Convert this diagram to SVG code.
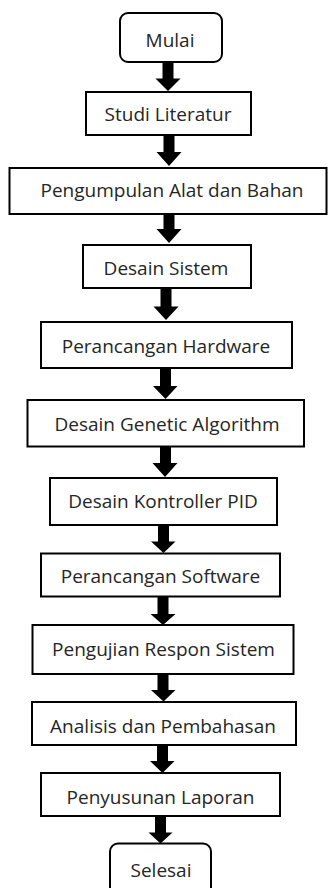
<svg xmlns="http://www.w3.org/2000/svg" width="329" height="888" viewBox="0 0 329 888">
<style>
.box{fill:#fff;stroke:#000;stroke-width:2}
.lbl{font-family:"Open Sans","Noto Sans",sans-serif;font-size:19px;fill:#262626;text-anchor:middle}
.arr{fill:#000;stroke:none}
</style>
<rect width="329" height="888" fill="#fff"/>
<g id="connectors">
<path class="arr" d="M162.5,62 H173.5 V78.5 H180.5 L168,91 L155.5,78.5 H162.5 Z"/>
<path class="arr" d="M163.5,135 H174.5 V152 H181.5 L169,166 L156.5,152 H163.5 Z"/>
<path class="arr" d="M163.5,214 H174.5 V229 H181.5 L169,243 L156.5,229 H163.5 Z"/>
<path class="arr" d="M160.5,288 H171.5 V306.5 H178.5 L166,320 L153.5,306.5 H160.5 Z"/>
<path class="arr" d="M160,368 H171 V386 H177.5 L165.5,399 L153,386 H160 Z"/>
<path class="arr" d="M160,446.5 H171 V463 H177.5 L165,477 L152.5,463 H160 Z"/>
<path class="arr" d="M158,525 H169 V541.5 H175.5 L163.5,553 L151,541.5 H158 Z"/>
<path class="arr" d="M157.5,596.5 H168.5 V614 H175.5 L163,625 L150.5,614 H157.5 Z"/>
<path class="arr" d="M157.5,674 H168.5 V690 H175.5 L163.5,701.5 L151,690 H157.5 Z"/>
<path class="arr" d="M157,745 H168 V761 H174.5 L162.5,773 L150,761 H157 Z"/>
<path class="arr" d="M155,816 H166 V832.5 H172.5 L160.5,843.5 L148.5,832.5 H155 Z"/>
</g>
<g id="n1"><rect class="box" x="120" y="13" width="102" height="49" rx="8"/><text class="lbl" x="170" y="46.5">Mulai</text></g>
<g id="n2"><rect class="box" x="86" y="92" width="165" height="43"/><text class="lbl" x="168" y="121">Studi Literatur</text></g>
<g id="n3"><rect class="box" x="9.5" y="168" width="317" height="46"/><text class="lbl" x="172" y="197">Pengumpulan Alat dan Bahan</text></g>
<g id="n4"><rect class="box" x="83" y="245" width="168" height="43"/><text class="lbl" x="166" y="275">Desain Sistem</text></g>
<g id="n5"><rect class="box" x="41" y="322" width="251" height="46"/><text class="lbl" x="166" y="353">Perancangan Hardware</text></g>
<g id="n6"><rect class="box" x="27.5" y="400" width="276.5" height="46.5"/><text class="lbl" x="167" y="430.5">Desain Genetic Algorithm</text></g>
<g id="n7"><rect class="box" x="50" y="478" width="227" height="47"/><text class="lbl" x="163" y="507.5">Desain Kontroller PID</text></g>
<g id="n8"><rect class="box" x="41" y="553.5" width="239" height="43"/><text class="lbl" x="160.5" y="583">Perancangan Software</text></g>
<g id="n9"><rect class="box" x="32.5" y="625" width="261" height="49"/><text class="lbl" x="163.5" y="656">Pengujian Respon Sistem</text></g>
<g id="n10"><rect class="box" x="32" y="702" width="264" height="43"/><text class="lbl" x="163" y="733">Analisis dan Pembahasan</text></g>
<g id="n11"><rect class="box" x="41" y="773" width="239" height="43"/><text class="lbl" x="160.5" y="804">Penyusunan Laporan</text></g>
<g id="n12"><rect class="box" x="110" y="843.5" width="101" height="55" rx="8"/><text class="lbl" x="161" y="877">Selesai</text></g>
</svg>
